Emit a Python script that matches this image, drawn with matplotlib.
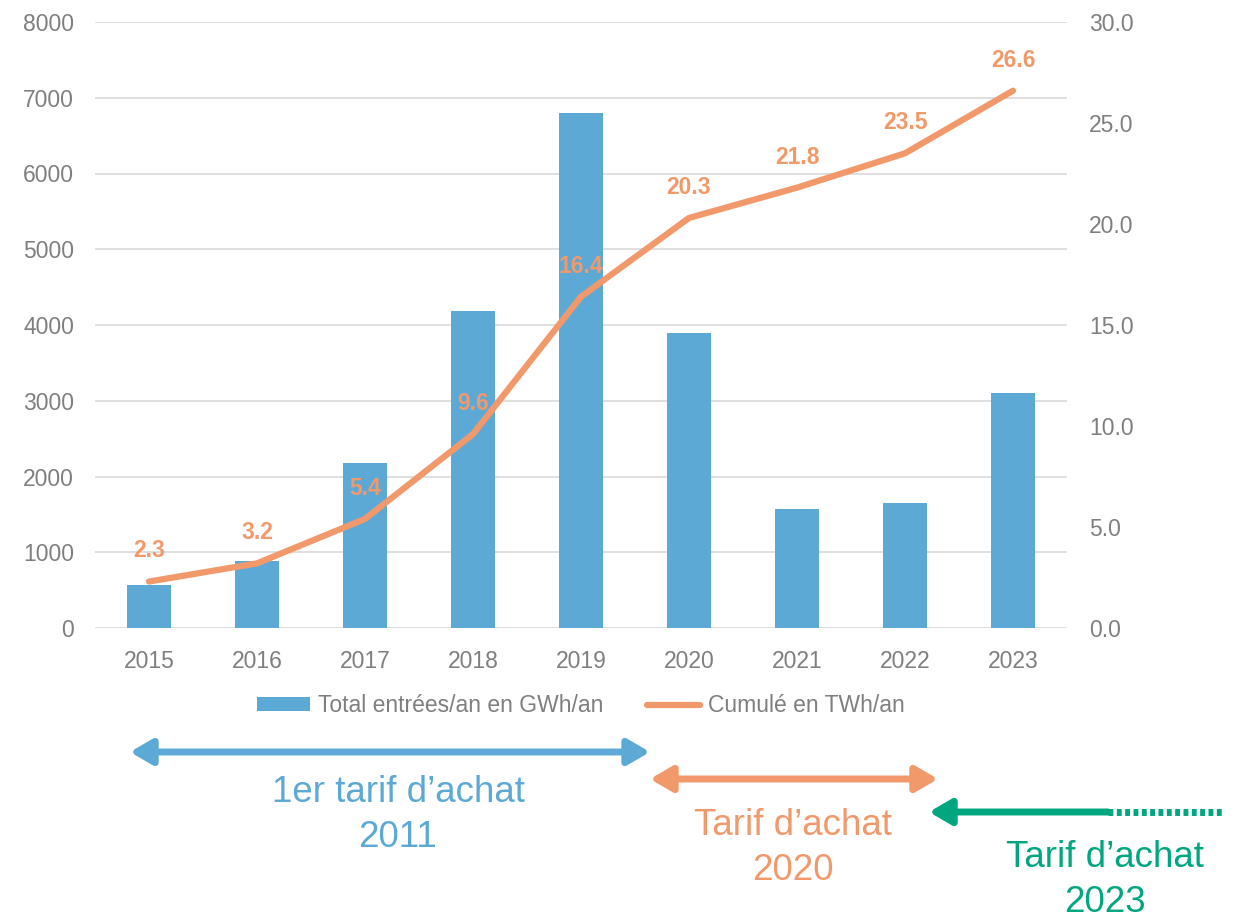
import matplotlib.pyplot as plt
import numpy as np

plt.rcParams['font.family'] = ['Liberation Sans', 'DejaVu Sans']

# Data
years = ['2015', '2016', '2017', '2018', '2019', '2020', '2021', '2022', '2023']
entrees_gwh = [570, 880, 2180, 4190, 6800, 3900, 1570, 1650, 3100]
cumul_twh = [2.3, 3.2, 5.4, 9.6, 16.4, 20.3, 21.8, 23.5, 26.6]

bar_color = '#5DA9D6'
line_color = '#F2996B'
green = '#00A67E'
grey = '#7F7F7F'

fig = plt.figure(figsize=(12.43, 9.18), dpi=100)
ax = fig.add_axes([95 / 1243, 1 - 628 / 918, (1067 - 95) / 1243, (628 - 22) / 918])
x = np.arange(len(years))

bars = ax.bar(x, entrees_gwh, width=0.41, color=bar_color, label='Total entrées/an en GWh/an', zorder=2)
ax.set_xlim(-0.5, len(years) - 0.5)
ax.set_ylim(0, 8000)
ax.set_yticks(range(0, 8001, 1000))
ax.set_xticks(x)
ax.set_xticklabels(years)
ax.grid(axis='y', color='#D9D9D9', linewidth=1.2, zorder=0)
ax.tick_params(length=0, labelsize=16.5, colors=grey, pad=16)
ax.tick_params(axis='y', pad=15)
for s in ax.spines.values():
    s.set_visible(False)

#Secondary axis for the cumulated line
ax2 = ax.twinx()
line, = ax2.plot(x, cumul_twh, color=line_color, linewidth=4.5, label='Cumulé en TWh/an', zorder=3,
                 solid_capstyle='round')
ax2.set_ylim(0, 30)
ax2.set_yticks(np.arange(0, 30.1, 5))
ax2.set_yticklabels(['{:.1f}'.format(v) for v in np.arange(0, 30.1, 5)])
ax2.tick_params(length=0, labelsize=16.5, colors=grey, pad=16)
for s in ax2.spines.values():
    s.set_visible(False)
for xi, v in zip(x, cumul_twh):
    ax2.annotate('{:.1f}'.format(v), (xi, v), xytext=(0, 22), textcoords='offset points',
                 ha='center', va='center', fontsize=16.5, fontweight='bold', color=line_color)

ax.legend([bars, line], ['Total entrées/an en GWh/an', 'Cumulé en TWh/an'], loc='center',
          bbox_to_anchor=(0.5, -0.128), ncol=2, frameon=False, fontsize=16.5, labelcolor=grey,
          handlelength=2.3, handleheight=0.55, columnspacing=1.9, handletextpad=0.35)

#Overlay in pixel coordinates for the tariff periods
ov = fig.add_axes([0, 0, 1, 1], facecolor='none')
ov.set_xlim(0, 1243)
ov.set_ylim(918, 0)
ov.axis('off')
both = '<|-|>,head_length=0.6,head_width=0.35'
ov.annotate('', xy=(130, 752), xytext=(650, 752),
            arrowprops=dict(arrowstyle=both, color=bar_color, lw=5, mutation_scale=22, shrinkA=0, shrinkB=0))
ov.annotate('', xy=(650, 779), xytext=(938, 779),
            arrowprops=dict(arrowstyle=both, color=line_color, lw=5, mutation_scale=22, shrinkA=0, shrinkB=0))
ov.annotate('', xy=(929, 812), xytext=(1108, 812),
            arrowprops=dict(arrowstyle='-|>,head_length=0.6,head_width=0.35', color=green, lw=5,
                            mutation_scale=22, shrinkA=0, shrinkB=0))
ov.plot([1108, 1222], [812, 812], color=green, lw=5, linestyle=(0, (0.7, 0.5)))

ov.text(398, 815, '1er tarif d\u2019achat\n2011', ha='center', va='center', fontsize=26.5,
        color=bar_color, linespacing=1.4)
ov.text(793, 848, 'Tarif d\u2019achat\n2020', ha='center', va='center', fontsize=26.5,
        color=line_color, linespacing=1.4)
ov.text(1105, 880, 'Tarif d\u2019achat\n2023', ha='center', va='center', fontsize=26.5,
        color=green, linespacing=1.4)

plt.savefig('out.png', dpi=100)
